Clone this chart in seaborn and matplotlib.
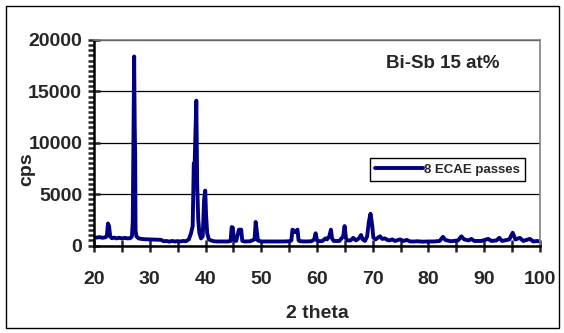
import pandas as pd
import matplotlib
matplotlib.use('Agg')
import matplotlib.pyplot as plt
import seaborn as sns
from matplotlib.ticker import MultipleLocator
from matplotlib.patches import Rectangle

# XRD pattern (2 theta, counts per second)
two_theta = [20.0, 20.5, 21.0, 21.5, 22.0, 22.3, 22.5, 22.7, 22.9, 23.2,
             23.6, 24.0, 24.5, 25.0, 25.5, 26.0, 26.5, 26.8, 26.95, 27.2,
             27.3, 27.38, 27.45, 27.6, 28.0, 28.5, 29.0, 30.0, 31.0, 32.0,
             32.5, 33.0, 33.5, 34.0, 34.5, 35.0, 35.5, 36.0, 36.5, 37.0,
             37.4, 37.7, 37.9, 38.05, 38.35, 38.5, 38.7, 38.9, 39.2, 39.5,
             39.75, 39.95, 40.1, 40.3, 40.6, 41.0, 41.5, 42.0, 43.0, 44.0,
             44.5, 44.7, 44.9, 45.1, 45.5, 46.0, 46.4, 46.6, 47.0, 48.0,
             48.8, 49.0, 49.2, 49.4, 50.0, 52.0, 54.0, 55.0, 55.4, 55.6,
             55.75, 56.1, 56.5, 56.7, 57.0, 58.0, 59.0, 59.5, 59.75, 60.0,
             60.5, 61.0, 61.5, 61.8, 62.2, 62.5, 62.7, 63.0, 64.0, 64.7,
             64.95, 65.2, 65.5, 66.0, 66.5, 67.0, 67.5, 67.9, 68.2, 68.6,
             69.0, 69.3, 69.6, 69.9, 70.1, 70.5, 71.0, 71.3, 71.7, 72.2,
             72.6, 73.0, 73.5, 74.0, 74.9, 75.5, 76.1, 76.7, 77.5, 78.0,
             79.0, 80.0, 81.0, 82.0, 82.6, 83.0, 84.0, 85.3, 85.9, 86.4,
             87.2, 87.7, 88.2, 89.5, 90.7, 91.3, 92.2, 92.7, 93.2, 94.5,
             95.1, 95.6, 96.4, 97.0, 98.2, 98.8, 99.5, 100.0]
cps = [800, 780, 820, 760, 800, 900, 2150, 1900, 900, 720,
       780, 700, 760, 700, 750, 700, 720, 900, 2300, 18400,
       11600, 9000, 1500, 900, 700, 650, 620, 600, 580, 560,
       420, 450, 380, 450, 400, 430, 400, 450, 420, 600,
       1200, 1900, 8000, 7900, 14100, 6000, 2500, 1200, 700, 900,
       4500, 5350, 3000, 1200, 600, 500, 420, 400, 400, 400,
       450, 1800, 1750, 600, 450, 1550, 1550, 450, 400, 420,
       600, 2300, 1400, 500, 400, 400, 400, 420, 500, 1550,
       1500, 1300, 1550, 500, 420, 400, 420, 600, 1200, 500,
       420, 450, 700, 600, 900, 1550, 700, 450, 450, 900,
       1900, 700, 500, 500, 750, 500, 700, 1030, 600, 450,
       900, 2300, 3100, 2000, 800, 600, 800, 900, 650, 700,
       550, 500, 600, 450, 600, 450, 550, 400, 400, 420,
       380, 400, 400, 450, 850, 550, 420, 500, 900, 600,
       500, 650, 450, 450, 650, 450, 500, 750, 450, 600,
       1250, 600, 750, 450, 650, 400, 450, 400]

series_label = '8 ECAE passes'
sample_text = 'Bi-Sb 15 at%'

df = pd.DataFrame({'2 theta': two_theta, 'cps': cps, 'sample': series_label})

sns.set_style('white')
plt.rcParams['font.family'] = ['Liberation Sans', 'DejaVu Sans']
plt.rcParams['font.weight'] = 'bold'

fig = plt.figure(figsize=(5.64, 3.33), dpi=100)
ax = fig.add_axes([0.1667, 0.2625, 0.7907, 0.6174])

sns.lineplot(data=df, x='2 theta', y='cps', hue='sample', palette=['#000080'],
             sort=False, linewidth=2.8, ax=ax)

ax.set_xlim(20, 100)
ax.set_ylim(0, 20000)
ax.xaxis.set_major_locator(MultipleLocator(10))
ax.xaxis.set_minor_locator(MultipleLocator(5))
ax.yaxis.set_major_locator(MultipleLocator(5000))
ax.yaxis.set_minor_locator(MultipleLocator(500))

ax.yaxis.grid(True, which='major', color='black', linewidth=0.9)
ax.set_axisbelow(True)

for side in ['left', 'bottom']:
    ax.spines[side].set_color('black')
    ax.spines[side].set_linewidth(1.8)
for side in ['top', 'right']:
    ax.spines[side].set_color('#808080')
    ax.spines[side].set_linewidth(1.2)

ax.tick_params(axis='x', which='both', direction='inout', length=9, width=1.8,
               labelsize=14, pad=14, bottom=True)
ax.tick_params(axis='y', which='major', direction='inout', length=9, width=1.8,
               labelsize=14, pad=4, left=True)
ax.tick_params(axis='y', which='minor', direction='out', length=4, width=1.8, left=True)
for lab in ax.get_xticklabels() + ax.get_yticklabels():
    lab.set_fontweight('bold')

ax.set_xlabel('2 theta', fontsize=14, fontweight='bold', va='center')
ax.set_ylabel('cps', fontsize=14, fontweight='bold', va='center', ha='center')
ax.xaxis.set_label_coords(0.5, -0.328)
ax.yaxis.set_label_coords(-0.151, 0.372)

ax.text(92.8, 17700, sample_text, ha='right', va='center', fontsize=13.5, fontweight='bold')

leg = ax.legend(loc='center', bbox_to_anchor=(0.793, 0.37), frameon=True, fancybox=False,
                handlelength=3.6, handletextpad=0.1, borderpad=0.4,
                prop={'size': 9.5, 'weight': 'bold'})
leg.get_frame().set_edgecolor('black')
leg.get_frame().set_linewidth(1.0)
leg.get_frame().set_alpha(1)

# outer chart frame
fig.patches.append(Rectangle((6 / 564, 5 / 333), 553 / 564, 322 / 333, transform=fig.transFigure,
                             fill=False, edgecolor='black', linewidth=1.0))

fig.savefig('out.png', dpi=100)
